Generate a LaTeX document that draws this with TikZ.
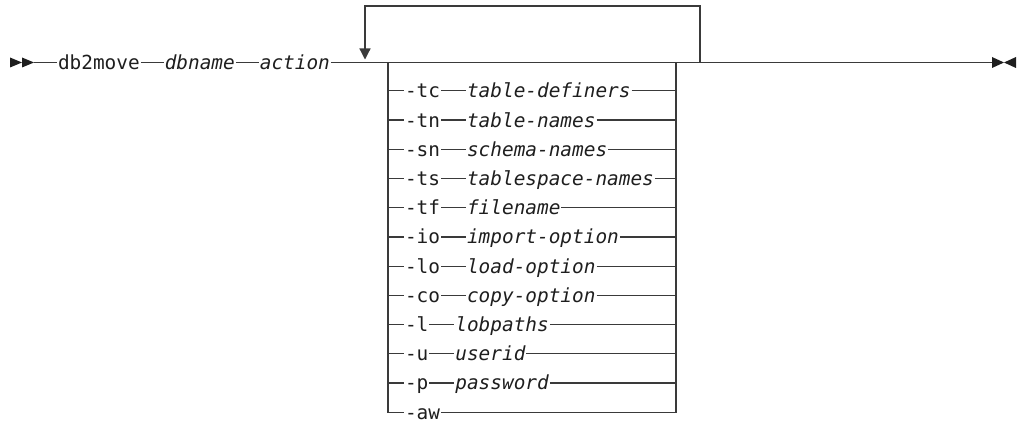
\documentclass[tikz,border=0pt]{standalone}
\usepackage{fontspec}
\newfontfamily\syntaxfont{DejaVu Sans Mono}
\usetikzlibrary{positioning,arrows.meta}

\begin{document}
\begin{tikzpicture}[x=1pt, y=1pt, line width=1.2pt,
  every node/.style={inner sep=1pt, outer sep=0pt, text height=14pt, text depth=0pt, text=tx,
    font=\syntaxfont\fontsize{19.4}{22}\selectfont},
  kw/.style={anchor=west},
  var/.style={font=\syntaxfont\itshape\fontsize{19.4}{22}\selectfont}]
  \definecolor{ln}{HTML}{3A3A3A}
  \definecolor{tx}{HTML}{1E1E1E}
  \def\options{
      tc/table-definers,
      tn/table-names,
      sn/schema-names,
      ts/tablespace-names,
      tf/filename,
      io/import-option,
      lo/load-option,
      co/copy-option,
      l/lobpaths,
      u/userid,
      p/password
  }
  \useasboundingbox (0,-360.5) rectangle (1018,62.5);

  % main line
  \coordinate (start) at (34,0);
  \coordinate (end) at (992,0);
  \coordinate (loopL) at (365,0);
  \coordinate (boxL) at (388,0);
  \coordinate (boxR) at (676,0);
  \coordinate (loopR) at (700,0);
  \node (db2move) at (57,0) [kw] {db2move};
  \node (dbname) [right=23pt of db2move, var] {dbname};
  \node (action) [right=23pt of dbname, var] {action};
  \draw [ln] (start) -- (db2move) -- (dbname) -- (action) -- (end);

  \fill [tx] (10,-5) -- (22,0) -- (10,5) -- cycle (22,-5) -- (34,0) -- (22,5) -- cycle;
  \fill [tx] (992,-5.5) -- (1004,0) -- (992,5.5) -- cycle (1016,-5.5) -- (1004,0) -- (1016,5.5) -- cycle;

  % repeat
  \draw [ln, -{Triangle[length=11pt, width=11pt]}] (loopR) |- ([yshift=56.5pt]loopL) -- ([yshift=3pt]loopL);

  % choices
  \foreach \o/\a [count=\i] in \options {
      \node (opt\i) at (404, {-28.4-29.2*(\i-1)}) [kw] {-\o};
      \node (arg\i) [right=25pt of opt\i, var] {\a};
      \draw [ln] (boxL |- opt\i) -- (opt\i) -- (arg\i) -- (boxR |- arg\i);
  }
  \node (aw) at (404, -349.6) [kw] {-aw};
  \draw [ln] (boxL) |- (aw);
  \draw [ln] (boxR) |- (aw);
\end{tikzpicture}
\end{document}
